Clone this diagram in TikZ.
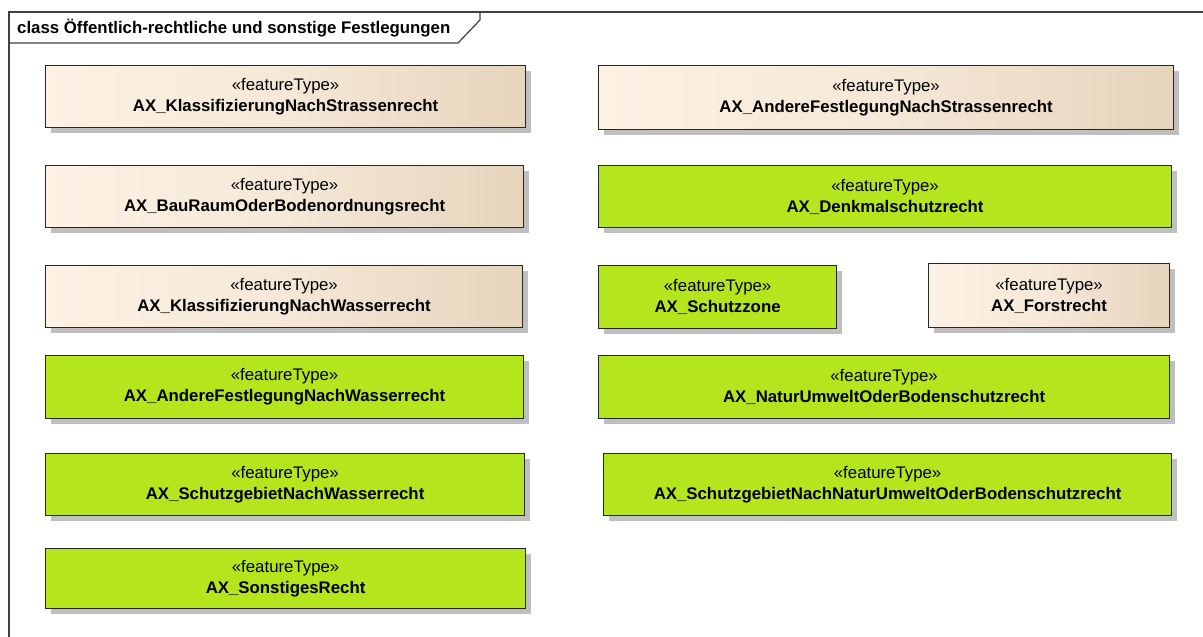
\documentclass[tikz,border=0pt]{standalone}
\usepackage{fontspec}
\setmainfont{Liberation Sans}
\usepackage{xcolor}
\usetikzlibrary{positioning, shadows}

\definecolor{eagreen}{RGB}{181,229,29}
\definecolor{beigeL}{RGB}{252,241,228}
\definecolor{beigeR}{RGB}{230,212,188}

% stereotype line + bold class name
\newcommand{\ftype}[1]{«featureType»\\\textbf{#1}}

\begin{document}
\begin{tikzpicture}[x=1pt, y=-1pt,
        % Style for every feature type box
        classbox/.style={
            draw=black!85,
            line width=1.2pt,
            anchor=north west,
            align=center,
            inner sep=0pt,
            font=\fontsize{16.8}{21}\selectfont,
            drop shadow={shadow xshift=5pt, shadow yshift=-5pt, fill=black!25, opacity=1}
        },
        % Green fill
        greenbox/.style={classbox, fill=eagreen},
        % Beige gradient fill
        beigebox/.style={classbox, left color=beigeL, right color=beigeR, middle color=beigeL!70!beigeR},
        % Box size from its width and height
        boxsize/.style 2 args={minimum width=#1pt, minimum height=#2pt}
    ]

    \useasboundingbox (0,0) rectangle (1203,637);

    % ==========================================
    % FRAME
    % ==========================================
    \draw[black!75, line width=1.2pt] (1215,12) -- (9,12) -- (9,650);
    \draw[black!75, line width=1.2pt] (9,43) -- (458,43) -- (480,20) -- (480,12);
    \node[anchor=west, font=\fontsize{16.8}{18}\bfseries, inner sep=0pt] (title) at (17,28)
        {class Öffentlich-rechtliche und sonstige Festlegungen};

    % ==========================================
    % LEFT COLUMN
    % ==========================================
    \node[beigebox, boxsize={480}{62}] (klassstr) at (45,65) {\ftype{AX\_KlassifizierungNachStrassenrecht}};
    \node[beigebox, boxsize={478}{62}] (bauraum) at (45,165) {\ftype{AX\_BauRaumOderBodenordnungsrecht}};
    \node[beigebox, boxsize={477}{62}] (klasswas) at (45,265) {\ftype{AX\_KlassifizierungNachWasserrecht}};
    \node[greenbox, boxsize={478}{63}] (anderewas) at (45,355) {\ftype{AX\_AndereFestlegungNachWasserrecht}};
    \node[greenbox, boxsize={479}{62}] (schutzwas) at (45,453) {\ftype{AX\_SchutzgebietNachWasserrecht}};
    \node[greenbox, boxsize={480}{60}] (sonstiges) at (45,548) {\ftype{AX\_SonstigesRecht}};

    % ==========================================
    % RIGHT COLUMN
    % ==========================================
    \node[beigebox, boxsize={575}{64}] (anderestr) at (598,65) {\ftype{AX\_AndereFestlegungNachStrassenrecht}};
    \node[greenbox, boxsize={573}{62}] (denkmal) at (598,165) {\ftype{AX\_Denkmalschutzrecht}};
    \node[greenbox, boxsize={238}{63}] (schutzzone) at (598,265) {\ftype{AX\_Schutzzone}};
    \node[beigebox, boxsize={241}{64}] (forst) at (928,263) {\ftype{AX\_Forstrecht}};
    \node[greenbox, boxsize={571}{63}] (natur) at (598,355) {\ftype{AX\_NaturUmweltOderBodenschutzrecht}};
    \node[greenbox, boxsize={568}{62}] (schutznatur) at (603,453) {\ftype{AX\_SchutzgebietNachNaturUmweltOderBodenschutzrecht}};
\end{tikzpicture}
\end{document}
